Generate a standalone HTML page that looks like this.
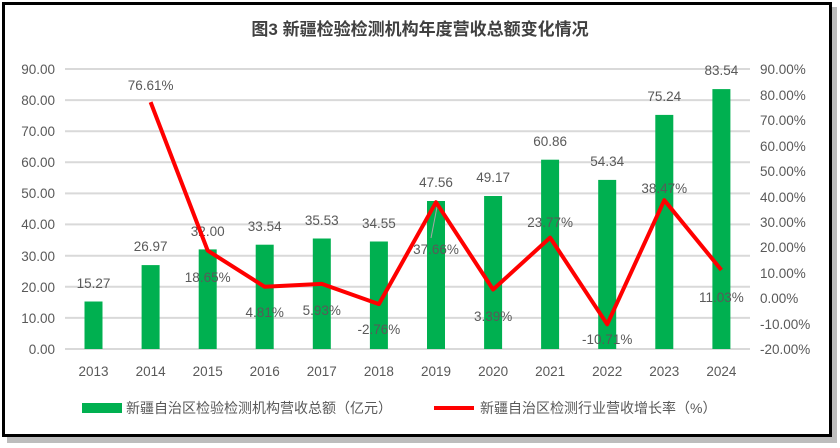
<!DOCTYPE html>
<html><head><meta charset="utf-8"><style>
body{margin:0;width:840px;height:448px;background:#fff;overflow:hidden}
svg{display:block}
text{font-family:"Liberation Sans","Noto Sans CJK SC",sans-serif;fill:#595959;font-size:13.5px}
</style></head><body>
<svg width="840" height="448" xmlns="http://www.w3.org/2000/svg">
<rect x="7" y="7" width="830" height="436" fill="#bdbdbd"/>
<rect x="3.5" y="3.5" width="827" height="432" fill="#fff" stroke="#000" stroke-width="3"/>
<text x="420" y="35" text-anchor="middle" style="font-size:17px;font-weight:bold;fill:#404040">图3 新疆检验检测机构年度营收总额变化情况</text>
<g stroke="#d9d9d9" stroke-width="2">
<line x1="65" x2="750" y1="69" y2="69"/><line x1="65" x2="750" y1="100.1" y2="100.1"/><line x1="65" x2="750" y1="131.2" y2="131.2"/><line x1="65" x2="750" y1="162.3" y2="162.3"/><line x1="65" x2="750" y1="193.4" y2="193.4"/><line x1="65" x2="750" y1="224.4" y2="224.4"/><line x1="65" x2="750" y1="255.7" y2="255.7"/><line x1="65" x2="750" y1="286.8" y2="286.8"/><line x1="65" x2="750" y1="317.9" y2="317.9"/><line x1="65" x2="750" y1="349" y2="349"/>
</g>
<g text-anchor="end">
<text x="55" y="74">90.00</text><text x="55" y="105">80.00</text><text x="55" y="136">70.00</text><text x="55" y="167">60.00</text><text x="55" y="198">50.00</text><text x="55" y="229">40.00</text><text x="55" y="261">30.00</text><text x="55" y="292">20.00</text><text x="55" y="323">10.00</text><text x="55" y="354">0.00</text>
</g>
<g>
<text x="760" y="74">90.00%</text><text x="760" y="100">80.00%</text><text x="760" y="125">70.00%</text><text x="760" y="151">60.00%</text><text x="760" y="176">50.00%</text><text x="760" y="202">40.00%</text><text x="760" y="227">30.00%</text><text x="760" y="252">20.00%</text><text x="760" y="278">10.00%</text><text x="760" y="303">0.00%</text><text x="760" y="329">-10.00%</text><text x="760" y="354">-20.00%</text>
</g>
<g fill="#00B050">
<rect x="84.5" y="301.5" width="18" height="47.5"/>
<rect x="141.6" y="265.1" width="18" height="83.9"/>
<rect x="198.7" y="249.4" width="18" height="99.6"/>
<rect x="255.7" y="244.7" width="18" height="104.3"/>
<rect x="312.8" y="238.5" width="18" height="110.5"/>
<rect x="369.9" y="241.5" width="18" height="107.5"/>
<rect x="427" y="201" width="18" height="148"/>
<rect x="484.1" y="196" width="18" height="153"/>
<rect x="541.1" y="159.7" width="18" height="189.3"/>
<rect x="598.2" y="179.9" width="18" height="169.1"/>
<rect x="655.3" y="114.9" width="18" height="234.1"/>
<rect x="712.4" y="89.1" width="18" height="259.9"/>
</g>
<g text-anchor="middle">
<text x="93.5" y="288">15.27</text><text x="150.6" y="251">26.97</text><text x="207.7" y="236">32.00</text><text x="264.7" y="231">33.54</text><text x="321.8" y="225">35.53</text><text x="378.9" y="228">34.55</text><text x="436" y="187">47.56</text><text x="493.1" y="182">49.17</text><text x="550.1" y="146">60.86</text><text x="607.2" y="166">54.34</text><text x="664.3" y="101">75.24</text><text x="721.4" y="75">83.54</text>
<text x="93.5" y="376">2013</text><text x="150.6" y="376">2014</text><text x="207.7" y="376">2015</text><text x="264.7" y="376">2016</text><text x="321.8" y="376">2017</text><text x="378.9" y="376">2018</text><text x="436" y="376">2019</text><text x="493.1" y="376">2020</text><text x="550.1" y="376">2021</text><text x="607.2" y="376">2022</text><text x="664.3" y="376">2023</text><text x="721.4" y="376">2024</text>
</g>
<line x1="437" y1="207" x2="431" y2="238" stroke="#a6a6a6" stroke-width="1"/>
<polyline points="150.6,102.1 207.7,250.6 264.7,286.8 321.8,283.9 378.9,304.1 436,202.2 493.1,289.5 550.1,237.6 607.2,324.3 664.3,200.2 721.4,270.0" fill="none" stroke="#FF0000" stroke-width="4" stroke-linejoin="round"/>
<g text-anchor="middle">
<text x="150.6" y="90">76.61%</text><text x="207.7" y="282">18.65%</text><text x="264.7" y="317">4.81%</text><text x="321.8" y="315">5.93%</text><text x="378.9" y="334">-2.76%</text><text x="436" y="254">37.66%</text><text x="493.1" y="321">3.39%</text><text x="550.1" y="227">23.77%</text><text x="607.2" y="344">-10.71%</text><text x="664.3" y="193">38.47%</text><text x="721.4" y="302">11.03%</text>
</g>
<rect x="82" y="403" width="40" height="10" fill="#00B050"/>
<text x="126" y="413" style="font-size:14px">新疆自治区检验检测机构营收总额（亿元）</text>
<line x1="434" y1="408" x2="474" y2="408" stroke="#FF0000" stroke-width="4"/>
<text x="480" y="413" style="font-size:14px">新疆自治区检测行业营收增长率（%）</text>
</svg>
</body></html>
